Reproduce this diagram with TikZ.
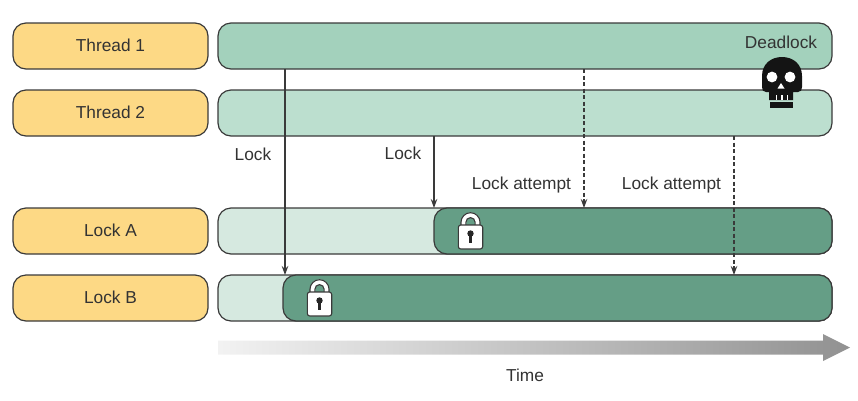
\documentclass[tikz,border=0pt]{standalone}
\usepackage{fontspec}
\setmainfont{Liberation Sans}
\usetikzlibrary{arrows.meta}
\definecolor{ink}{HTML}{3A3A3A}
\definecolor{txt}{HTML}{333333}
\definecolor{yel}{HTML}{FDD985}
\definecolor{tone}{HTML}{A3D1BC}
\definecolor{ttwo}{HTML}{BCDFCF}
\definecolor{lite}{HTML}{D6E9E0}
\definecolor{deep}{HTML}{659E86}
\tikzset{
  every node/.style={text=txt,font=\fontsize{17.3}{20}\selectfont,outer sep=0pt,inner sep=0pt},
  box/.style={draw=ink,line width=1.2pt,rounded corners=13pt,minimum height=46pt},
  namebox/.style={box,fill=yel,minimum width=195pt},
  barbox/.style={box,minimum width=614pt},
  conn/.style={draw=ink,line width=1.1pt,-{Stealth[length=9pt,width=6.5pt]}},
  dconn/.style={conn,dash pattern=on 4pt off 2.5pt},
  lockicon/.pic={
    \draw[white,line width=5pt] (-7,1) -- (-7,-3) arc[start angle=180,end angle=360,radius=7] -- (7,1);
    \draw[ink,line width=1.1pt] (-9.5,1) -- (-9.5,-2.8) arc[start angle=180,end angle=360,radius=9.5] -- (9.5,1);
    \draw[ink,line width=1.1pt] (-4.6,1) -- (-4.6,-2.8) arc[start angle=180,end angle=360,radius=4.6] -- (4.6,1);
    \draw[ink,fill=white,line width=1.1pt,rounded corners=2.5pt] (-12.2,0) rectangle (12.2,24);
    \fill[black!85] (0,8.5) circle[radius=3.2];
    \fill[black!85] (-1.4,9) rectangle (1.4,17.5);
  }
}
\begin{document}
\begin{tikzpicture}[x=1pt,y=-1pt]
\useasboundingbox (0,0) rectangle (858,400);
% names
\node[namebox] (nt1) at (110.5,46) {\raisebox{1pt}{Thread 1}};
\node[namebox] (nt2) at (110.5,113) {\raisebox{1pt}{Thread 2}};
\node[namebox] (nla) at (110.5,231) {\raisebox{1pt}{Lock A}};
\node[namebox] (nlb) at (110.5,298) {\raisebox{1pt}{Lock B}};
% bars
\node[barbox,fill=tone] (bt1) at (525,46) {};
\node[barbox,fill=ttwo] (bt2) at (525,113) {};
\node[barbox,fill=lite] (bla) at (525,231) {};
\node[barbox,fill=lite] (blb) at (525,298) {};
\node[box,fill=deep,minimum width=398pt] (dla) at (633,231) {};
\node[box,fill=deep,minimum width=549pt] (dlb) at (557.5,298) {};
% connector x positions
\coordinate (xa) at (285,0);
\coordinate (xb) at (434,0);
\coordinate (xc) at (584,0);
\coordinate (xd) at (734,0);
\draw[conn] (bt1.south -| xa) -- (blb.north -| xa);
\draw[conn] (bt2.south -| xb) -- (bla.north -| xb);
\draw[dconn] (bt1.south -| xc) -- (bla.north -| xc);
\draw[dconn] (bt2.south -| xd) -- (blb.north -| xd);
% labels
\node (l1) at (253,154) {Lock};
\node (l2) at (403,153.5) {Lock};
\node (l3) at (521.5,185) {Lock attempt};
\node (l4) at (671.5,185) {Lock attempt};
\node (dl) at (781,42) {Deadlock};
\node (tm) at (525,375) {Time};
% padlocks
\pic at (470.5,225) {lockicon};
\pic at (319.5,292) {lockicon};
% skull
\fill[black!92] (769,92) -- (766,92) .. controls (763,92) and (762,90) .. (762,87) -- (762,76) .. controls (762,64) and (771,57) .. (782,57) .. controls (793,57) and (802,64) .. (802,76) -- (802,87) .. controls (802,90) and (801,92) .. (798,92) -- (793,92) -- (793,100) -- (769,100) -- cycle;
\fill[black!92] (770,102) rectangle (793,107.5);
\fill[white] (772,77) circle[radius=5.4];
\fill[white] (790,77) circle[radius=5.4];
\fill[white] (781,83) -- (784.5,88.5) -- (777.5,88.5) -- cycle;
\fill[white] (775.5,95) rectangle (777,100);
\fill[white] (781,95) rectangle (782.5,100);
\fill[white] (786.5,95) rectangle (788,100);
% time arrow
\shade[left color=black!5,right color=black!43] (218,340.5) -- (823,340.5) -- (823,334) -- (850,347.5) -- (823,361) -- (823,354.5) -- (218,354.5) -- cycle;
\end{tikzpicture}
\end{document}
